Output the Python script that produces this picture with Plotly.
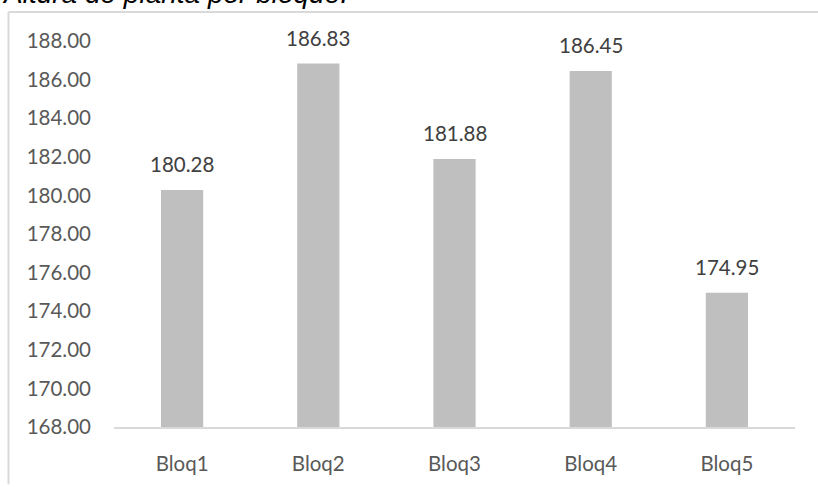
import plotly.graph_objects as go

# Plant height per block
bloques = ["Bloq1", "Bloq2", "Bloq3", "Bloq4", "Bloq5"]
altura = [180.28, 186.83, 181.88, 186.45, 174.95]
y_ticks = [168, 170, 172, 174, 176, 178, 180, 182, 184, 186, 188]
titulo = "Altura de planta por bloque."

W, H = 818, 487
M_L, M_R, M_T, M_B = 114, 23, 41, 55
plot_w = W - M_L - M_R
plot_h = H - M_T - M_B

def px_x(px):
    return (px - M_L) / plot_w

def px_y(py):
    return (H - M_B - py) / plot_h

FONT = "Lato, 'Open Sans', sans-serif"

fig = go.Figure(
    go.Bar(
        x=bloques,
        y=altura,
        marker=dict(color="#bfbfbf", line=dict(width=0)),
        hoverinfo="x+y",
    )
)

for b, v in zip(bloques, altura):
    fig.add_annotation(
        x=b, y=v, text=f"{v:.2f}", showarrow=False,
        yanchor="bottom", yshift=12,
        font=dict(family=FONT, size=20.5, color="#404040"),
    )

# chart frame (left and top edges)
frame = "#d9d9d9"
fig.add_shape(type="line", xref="paper", yref="paper",
              x0=px_x(8.5), x1=px_x(8.5), y0=px_y(11.5), y1=px_y(490),
              line=dict(color=frame, width=2))
fig.add_shape(type="line", xref="paper", yref="paper",
              x0=px_x(8.5), x1=px_x(820), y0=px_y(11.5), y1=px_y(11.5),
              line=dict(color=frame, width=2))

fig.add_annotation(
    xref="paper", yref="paper", x=px_x(0), y=px_y(4),
    xanchor="left", yanchor="bottom", yshift=-7,
    text=f"<i>{titulo}</i>", showarrow=False,
    font=dict(family="'Liberation Sans', Arial, sans-serif", size=28, color="#000000"),
)

fig.update_layout(
    width=W, height=H,
    margin=dict(l=M_L, r=M_R, t=M_T, b=M_B, pad=0),
    paper_bgcolor="white", plot_bgcolor="white",
    bargap=0.69,
    showlegend=False,
    font=dict(family=FONT, size=20.5, color="#595959"),
    xaxis=dict(
        showline=True, linecolor="#d9d9d9", linewidth=1.5,
        showgrid=False, ticks="", ticklabelstandoff=18,
        tickfont=dict(family=FONT, size=20.5, color="#595959"),
        fixedrange=True,
    ),
    yaxis=dict(
        range=[168, 188],
        tickvals=y_ticks,
        ticktext=[f"{t:.2f}" for t in y_ticks],
        showline=False, showgrid=False, zeroline=False, ticks="",
        ticklabelstandoff=22,
        tickfont=dict(family=FONT, size=20.5, color="#595959"),
        fixedrange=True,
    ),
)

fig.write_html("out.html")
